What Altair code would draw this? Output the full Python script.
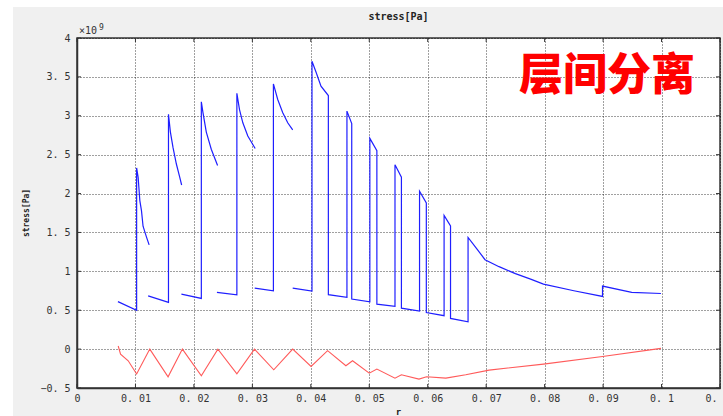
import altair as alt
import pandas as pd

# plot-area size in pixels (padding puts the rest of the 723x416 canvas around it)
W, H = 643, 350
PAD = {"left": 77, "top": 38, "right": 3, "bottom": 28}

# blue curve: one list per connected piece (r in m, stress in 1e9 Pa)
blue_r = [
    [0.0070, 0.0102, 0.0102, 0.01046, 0.01075, 0.01103, 0.0113, 0.01189, 0.01234],
    [0.01217, 0.01565, 0.01565, 0.01598, 0.01643, 0.0170, 0.01757, 0.0179],
    [0.01786, 0.02127, 0.02127, 0.02155, 0.02212, 0.02297, 0.02405],
    [0.02394, 0.02735, 0.02735, 0.0278, 0.02837, 0.02922, 0.03048],
    [0.0304, 0.0336, 0.0336, 0.03434, 0.0352, 0.03605, 0.0369],
    [0.0369, 0.0402, 0.0402, 0.0409, 0.04174, 0.0430, 0.0430, 0.04618, 0.04618,
     0.0470, 0.0470, 0.0501, 0.0501, 0.0513, 0.0513, 0.0544, 0.0544, 0.0555,
     0.0555, 0.0586, 0.0586, 0.05976, 0.05976, 0.0628, 0.0628, 0.0639, 0.0639,
     0.0669, 0.0669, 0.0685, 0.0698, 0.0722, 0.0750, 0.0776, 0.0798, 0.0850,
     0.0899, 0.0899, 0.0949, 0.0999],
]
blue_s = [
    [0.61, 0.50, 2.33, 2.21, 1.91, 1.78, 1.58, 1.44, 1.34],
    [0.685, 0.60, 3.02, 2.79, 2.59, 2.38, 2.21, 2.11],
    [0.707, 0.652, 3.18, 3.04, 2.79, 2.57, 2.36],
    [0.729, 0.698, 3.29, 3.08, 2.91, 2.74, 2.58],
    [0.784, 0.75, 3.41, 3.21, 3.04, 2.91, 2.82],
    [0.784, 0.745, 3.70, 3.56, 3.38, 3.26, 0.70, 0.665, 3.06,
     2.90, 0.643, 0.608, 2.71, 2.55, 0.578, 0.549, 2.37, 2.21,
     0.527, 0.49, 2.03, 1.88, 0.47, 0.43, 1.72, 1.585, 0.395,
     0.35, 1.435, 1.28, 1.15, 1.06, 0.97, 0.90, 0.835, 0.75,
     0.677, 0.81, 0.73, 0.715],
]

# red curve
red_r = [0.00705, 0.00745, 0.00876, 0.0102, 0.01245, 0.01558, 0.01803, 0.02127,
         0.0241, 0.02735, 0.03036, 0.03366, 0.0369, 0.04004, 0.04287, 0.046,
         0.04714, 0.05, 0.0513, 0.0544, 0.0555, 0.0585, 0.0598, 0.0631, 0.0665,
         0.0705, 0.0798, 0.0899, 0.0999]
red_s = [0.04, -0.065, -0.15, -0.32, 0.0, -0.356, 0.0, -0.343, 0.0, -0.317,
         0.0, -0.266, 0.0, -0.223, -0.02, -0.214, -0.15, -0.31, -0.257, -0.373,
         -0.33, -0.386, -0.356, -0.373, -0.33, -0.27, -0.193, -0.094, 0.009]

x_ticks = [round(i * 0.01, 2) for i in range(12)]
y_ticks = [round(-0.5 + i * 0.5, 1) for i in range(10)]

rows = []
for p, (rs, ss) in enumerate(zip(blue_r, blue_s), start=1):
    for r, s in zip(rs, ss):
        rows.append({"piece": p, "i": len(rows), "r": r, "s": s})
blue_df = pd.DataFrame(rows)
red_df = pd.DataFrame({"i": range(len(red_r)), "r": red_r, "s": red_s})

MONO = "DejaVu Sans Mono"
GRID = dict(grid=True, gridColor="#000000", gridDash=[1, 2], gridOpacity=0.75,
            gridWidth=1, ticks=False, domainColor="#333333", domainWidth=1.5,
            labelFont=MONO, labelFontSize=10, labelColor="#333333",
            labelFlush=False, labelBound=False, labelOverlap=False,
            labelExpr="replace(datum.label, '.', '. ')", title=None)

x_scale = alt.Scale(domain=[0, 0.11], nice=False, zero=False)
y_scale = alt.Scale(domain=[-0.5, 4], nice=False, zero=False)

x_enc = alt.X("r:Q", scale=x_scale,
              axis=alt.Axis(values=x_ticks, format="~g", labelPadding=5, **GRID))
y_enc = alt.Y("s:Q", scale=y_scale,
              axis=alt.Axis(values=y_ticks, format="~g", labelPadding=7, **GRID))

blue = alt.Chart(blue_df).mark_line(color="#1f1fff", strokeWidth=1.2).encode(
    x=x_enc, y=y_enc, detail="piece:N", order="i:Q")
red = alt.Chart(red_df).mark_line(color="#ff5a5a", strokeWidth=1.1).encode(
    x=x_enc, y=y_enc, order="i:Q")

# inward tick marks on all four sides of the box
xt = pd.DataFrame({"r": x_ticks})
yt = pd.DataFrame({"s": y_ticks})
tick_col = "#333333"
ticks_bottom = alt.Chart(xt).mark_rule(color=tick_col).encode(
    x=x_enc, y=alt.value(H), y2=alt.value(H - 4))
ticks_top = alt.Chart(xt).mark_rule(color=tick_col).encode(
    x=x_enc, y=alt.value(0), y2=alt.value(4))
ticks_left = alt.Chart(yt).mark_rule(color=tick_col).encode(
    y=y_enc, x=alt.value(0), x2=alt.value(4))
ticks_right = alt.Chart(yt).mark_rule(color=tick_col).encode(
    y=y_enc, x=alt.value(W), x2=alt.value(W - 4))

one = pd.DataFrame({"t": [""]})


def label(text, x, y, **kw):
    return alt.Chart(pd.DataFrame({"t": [text]})).mark_text(**kw).encode(
        text="t:N", x=alt.value(x), y=alt.value(y))


# white margin strips along the left and top edges of the canvas
strip_left = alt.Chart(one).mark_rect(color="white").encode(
    x=alt.value(-PAD["left"]), x2=alt.value(13 - PAD["left"]),
    y=alt.value(-PAD["top"]), y2=alt.value(H + PAD["bottom"]))
strip_top = alt.Chart(one).mark_rect(color="white").encode(
    x=alt.value(-PAD["left"]), x2=alt.value(W + PAD["right"]),
    y=alt.value(-PAD["top"]), y2=alt.value(7 - PAD["top"]))

title = label("stress[Pa]", W / 2, -21, font=MONO, fontSize=10,
              fontWeight="bold", color="#222222", baseline="middle")
ylab = label("stress[Pa]", -50, H / 2, font=MONO, fontSize=8,
             fontWeight="bold", color="#222222", angle=270, baseline="middle")
xlab = label("r", W / 2, 374, font=MONO, fontSize=9,
             fontWeight="bold", color="#222222", baseline="middle")
exp_base = label("×10", 2, -2, font=MONO, fontSize=10, color="#333333",
                 align="left", baseline="bottom")
exp_pow = label("9", 22, -6, font=MONO, fontSize=8, color="#333333",
                align="left", baseline="bottom")
banner = label("层间分离", 530, 39, font="Noto Sans CJK SC", fontSize=44,
               fontWeight=900, color="#ff0000", baseline="middle")

chart = alt.layer(
    strip_left, strip_top, blue, red,
    ticks_bottom, ticks_top, ticks_left, ticks_right,
    title, ylab, xlab, exp_base, exp_pow, banner,
).properties(
    width=W, height=H,
    autosize=alt.AutoSizeParams(type="none"),
    padding=PAD,
    background="#f0f0f0",
).configure_view(
    fill="white", stroke="#333333", strokeWidth=1.5,
)

chart.save("out.html", embed_options={"renderer": "svg", "actions": False})
